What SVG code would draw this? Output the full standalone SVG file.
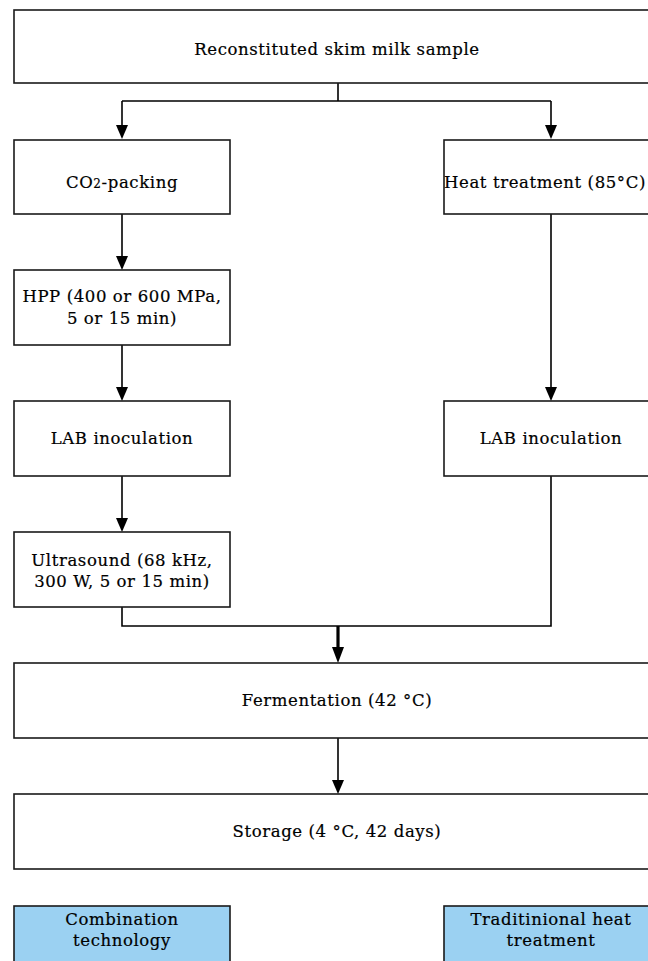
<svg xmlns="http://www.w3.org/2000/svg" width="648" height="961" viewBox="0 0 648 961">
<defs>
<style>
.box{fill:#fff;stroke:#1a1a1a;stroke-width:1.6}
.blue{fill:#9bd1f2;stroke:#1a1a1a;stroke-width:1.6}
.t{font-family:"DejaVu Serif","Liberation Serif",serif;font-size:16.5px;letter-spacing:0.6px;fill:#000;stroke:#000;stroke-width:0.2px;text-anchor:middle}
.c{fill:none;stroke:#000;stroke-width:1.6}
.ct{fill:none;stroke:#000;stroke-width:3.2}
</style>
</defs>
<rect width="648" height="961" fill="#fff"/>
<g id="connectors">
<path class="c" d="M338,83 V101 M122,101 H551"/>
<path class="c" d="M122,101 V127"/>
<path d="M116,125 L128,125 L122,139 Z"/>
<path class="c" d="M551,101 V127"/>
<path d="M545,125 L557,125 L551,139 Z"/>
<path class="c" d="M122,214 V258"/>
<path d="M116,256 L128,256 L122,270 Z"/>
<path class="c" d="M122,345 V389"/>
<path d="M116,387 L128,387 L122,401 Z"/>
<path class="c" d="M551,214 V389"/>
<path d="M545,387 L557,387 L551,401 Z"/>
<path class="c" d="M122,476 V520"/>
<path d="M116,518 L128,518 L122,532 Z"/>
<path class="c" d="M122,607 V626 H551 V476"/>
<path class="ct" d="M338,626 V650"/>
<path d="M332,647 L344,647 L338,663 Z"/>
<path class="c" d="M338,738 V782"/>
<path d="M332,780 L344,780 L338,794 Z"/>
</g>
<g id="sample">
<rect class="box" x="14" y="10" width="646" height="73"/>
<text class="t" x="337" y="55">Reconstituted skim milk sample</text>
</g>
<g id="co2">
<rect class="box" x="14" y="140" width="216" height="74"/>
<text class="t" x="122" y="188">CO<tspan font-size="12">2</tspan>-packing</text>
</g>
<g id="heat">
<rect class="box" x="444" y="140" width="216" height="74"/>
<text class="t" x="545" y="188">Heat treatment (85°C)</text>
</g>
<g id="hpp">
<rect class="box" x="14" y="270" width="216" height="75"/>
<text class="t" x="122" y="302">HPP (400 or 600 MPa,</text>
<text class="t" x="122" y="324">5 or 15 min)</text>
</g>
<g id="lab1">
<rect class="box" x="14" y="401" width="216" height="75"/>
<text class="t" x="122" y="444">LAB inoculation</text>
</g>
<g id="lab2">
<rect class="box" x="444" y="401" width="216" height="75"/>
<text class="t" x="551" y="444">LAB inoculation</text>
</g>
<g id="ultrasound">
<rect class="box" x="14" y="532" width="216" height="75"/>
<text class="t" x="122" y="566">Ultrasound (68 kHz,</text>
<text class="t" x="122" y="587">300 W, 5 or 15 min)</text>
</g>
<g id="fermentation">
<rect class="box" x="14" y="663" width="646" height="75"/>
<text class="t" x="337" y="706">Fermentation (42 °C)</text>
</g>
<g id="storage">
<rect class="box" x="14" y="794" width="646" height="75"/>
<text class="t" x="337" y="837">Storage (4 °C, 42 days)</text>
</g>
<g id="combination">
<rect class="blue" x="14" y="906" width="216" height="75"/>
<text class="t" x="122" y="925">Combination</text>
<text class="t" x="122" y="946">technology</text>
</g>
<g id="traditional">
<rect class="blue" x="444" y="906" width="216" height="75"/>
<text class="t" x="551" y="925">Traditinional heat</text>
<text class="t" x="551" y="946">treatment</text>
</g>
</svg>
